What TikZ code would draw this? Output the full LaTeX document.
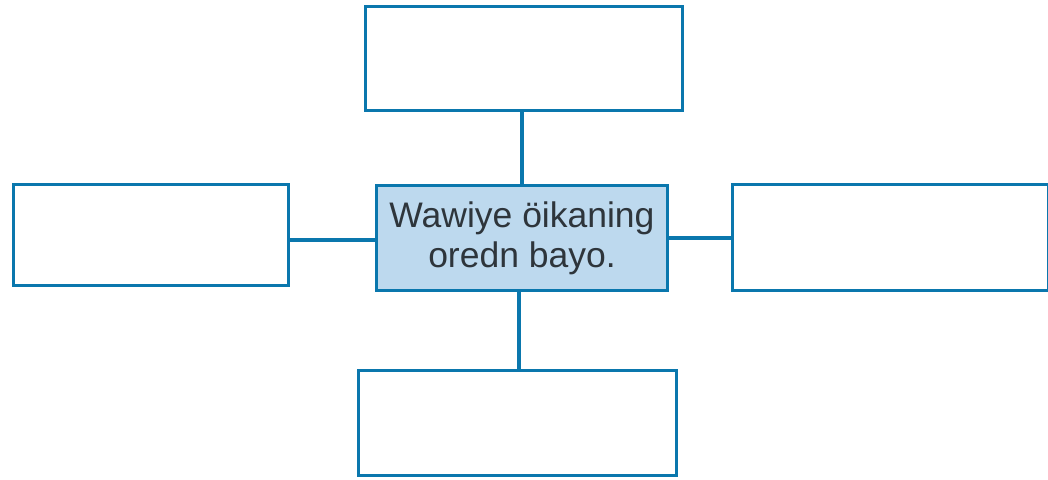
\documentclass[tikz,border=0pt]{standalone}
\usepackage{fontspec}
\setmainfont{Liberation Sans}
\usetikzlibrary{positioning}
\definecolor{frameblue}{HTML}{0A77AD}
\definecolor{hubfill}{HTML}{BDD9EE}
\definecolor{inkgrey}{HTML}{2E353B}
\tikzset{
  emptybox/.style={draw=frameblue, line width=3pt, fill=white, outer sep=0pt,
    inner sep=0pt},
  hubbox/.style={emptybox, fill=hubfill, align=center, text=inkgrey,
    font=\fontsize{35.5}{40}\selectfont},
  link/.style={draw=frameblue, line width=3.5pt}
}
\begin{document}
\begin{tikzpicture}[x=1pt, y=1pt]
    \useasboundingbox (0,0) rectangle (1048,-479);
    \node[hubbox, minimum width=291pt, minimum height=105pt] (hub) at (522,-238)
      {Wawiye öikaning\\oredn bayo.};
    \node[emptybox, minimum width=317pt, minimum height=104pt,
      above=75.5pt of hub, xshift=1.5pt] (top) {};
    \node[emptybox, minimum width=318pt, minimum height=105pt,
      below=79.5pt of hub, xshift=-5pt] (bottom) {};
    \node[emptybox, minimum width=275pt, minimum height=101pt,
      left=88.5pt of hub, yshift=3.5pt] (left) {};
    \node[emptybox, minimum width=316pt, minimum height=106pt,
      right=64.5pt of hub, yshift=1pt] (right) {};
    \draw[link] (hub.north) -- (hub.north |- top.south);
    \draw[link] ([xshift=-3pt]hub.south) -- ([xshift=-3pt]hub.south |- bottom.north);
    \draw[link] ([yshift=-2pt]hub.west) -- ([yshift=-2pt]hub.west -| left.east);
    \draw[link] (hub.east) -- (hub.east -| right.west);
  \end{tikzpicture}
\end{document}
